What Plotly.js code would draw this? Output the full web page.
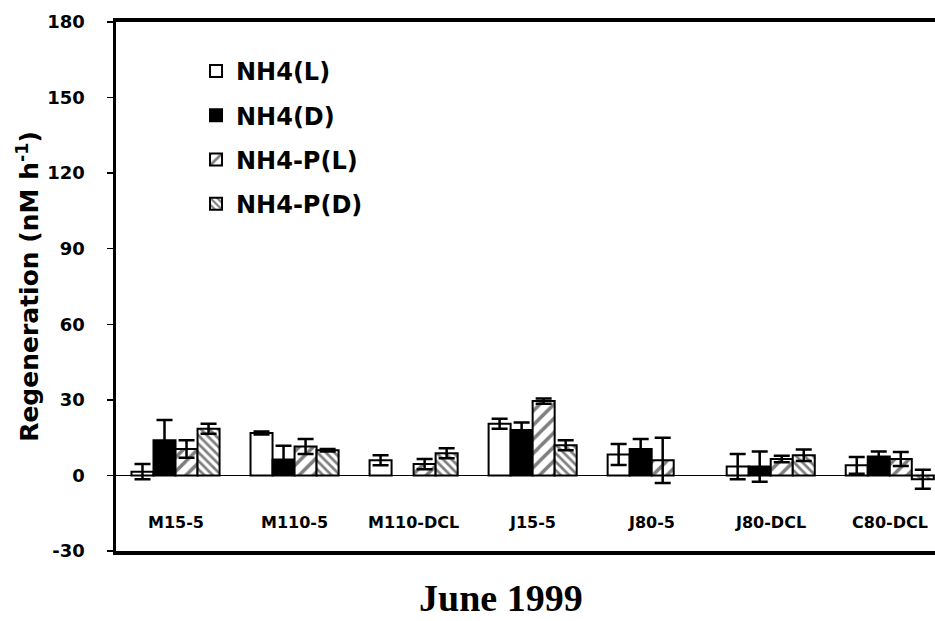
<!DOCTYPE html>
<html>
<head>
<meta charset="utf-8">
<script src="https://cdn.plot.ly/plotly-3.0.1.min.js"></script>
<style>html,body{margin:0;padding:0;background:#fff;}#chart{width:935px;height:621px;}</style>
</head>
<body>
<div id="chart"></div>
<script>
// Categories (stations)
const categories = ["M15-5", "M110-5", "M110-DCL", "J15-5", "J80-5", "J80-DCL", "C80-DCL"];
// Series values (nM h^-1) and error bars (null = no bar)
const nh4L   = [1.5, 16.8, 6.0, 20.5, 8.3, 3.5, 4.0];
const nh4LErr = [3.0, 0.6, 2.0, 2.0, 4.2, 5.0, 3.3];
const nh4D   = [14.0, 6.3, null, 18.0, 10.5, 3.5, 7.5];
const nh4DErr = [8.0, 5.5, null, 3.0, 4.0, 6.0, 2.0];
const nh4PL  = [10.5, 11.5, 4.5, 29.5, 6.0, 6.5, 6.5];
const nh4PLErr = [3.5, 3.0, 2.0, 1.0, 9.0, 1.3, 2.8];
const nh4PD  = [18.5, 10.0, 8.8, 12.0, null, 8.0, -1.5];
const nh4PDErr = [2.0, 0.5, 2.0, 2.0, null, 2.3, 3.8];
const seriesNames = ["NH4(L)", "NH4(D)", "NH4-P(L)", "NH4-P(D)"];
const yTicks = [-30, 0, 30, 60, 90, 120, 150, 180];
const yTickLabels = ["-30", "0", "30", "60", "90", "120", "150", "180"];
const boundaryTicks = [0.5, 1.5, 2.5, 3.5, 4.5, 5.5];
const xTitle = "June 1999";
const yTitle = "Regeneration (nM h<sup>-1</sup>)";

const sansBold = 'DejaVu Sans, sans-serif';
function errBar(arr) {
  return {type: 'data', array: arr, visible: true, color: '#000', thickness: 2.5, width: 8};
}
const line = {color: '#000', width: 2};

const traces = [
  {type: 'bar', name: seriesNames[0], x: categories, y: nh4L, error_y: errBar(nh4LErr),
   marker: {color: '#fff', line: line}, legendgroup: 'a'},
  {type: 'bar', name: seriesNames[1], x: categories, y: nh4D, error_y: errBar(nh4DErr),
   marker: {color: '#000', line: line}, legendgroup: 'b'},
  {type: 'bar', name: seriesNames[2], x: categories, y: nh4PL, error_y: errBar(nh4PLErr),
   marker: {color: '#fff', line: line, pattern: {shape: '/', fgcolor: '#000', bgcolor: '#fff', size: 10, solidity: 0.35, fillmode: 'overlay'}}, legendgroup: 'c'},
  {type: 'bar', name: seriesNames[3], x: categories, y: nh4PD, error_y: errBar(nh4PDErr),
   marker: {color: '#fff', line: line, pattern: {shape: '\\', fgcolor: '#000', bgcolor: '#fff', size: 6, solidity: 0.45, fillmode: 'overlay'}}, legendgroup: 'd'}
];

const annotations = categories.map(c => ({
  x: c, y: -18.5, xref: 'x', yref: 'y', text: c, showarrow: false,
  font: {family: sansBold, size: 16, color: '#000', weight: 'bold'}
}));
annotations.push({
  x: 0.3675, y: -0.088, xref: 'paper', yref: 'paper', text: '<b>' + xTitle + '</b>', showarrow: false,
  xanchor: 'left', yanchor: 'middle', font: {family: 'Liberation Serif, Times New Roman, serif', size: 38, color: '#000'}
});

const layout = {
  width: 935, height: 621,
  margin: {l: 116, r: 0, t: 22, b: 70},
  paper_bgcolor: '#fff', plot_bgcolor: '#fff',
  barmode: 'group', bargap: 0.26, bargroupgap: 0,
  showlegend: true,
  legend: {x: 0.0977, y: 0.949, xanchor: 'left', yanchor: 'top', bgcolor: 'rgba(0,0,0,0)',
    font: {family: sansBold, size: 24, color: '#000', weight: 'bold'},
    tracegroupgap: 10, itemwidth: 30},
  xaxis: {type: 'category', range: [-0.5, 6.38], showline: true, linecolor: '#000', linewidth: 4,
    mirror: true, ticks: '', showticklabels: false, showgrid: false, zeroline: false, fixedrange: true},
  xaxis2: {overlaying: 'x', anchor: 'free', position: 30 / 210, range: [-0.5, 6.38],
    tickvals: boundaryTicks, ticks: 'outside', ticklen: 4, tickwidth: 1.5, tickcolor: '#000',
    showticklabels: false, showline: false, showgrid: false, zeroline: false},
  yaxis: {range: [-30, 180], tickvals: yTicks, ticktext: yTickLabels,
    ticks: 'outside', ticklen: 6, tickwidth: 1.5,
    tickcolor: '#000', showline: true, linecolor: '#000', linewidth: 3.5, showgrid: false,
    zeroline: true, zerolinecolor: '#000', zerolinewidth: 1.5, ticklabelstandoff: 18,
    tickfont: {family: sansBold, size: 18, color: '#000', weight: 'bold'},
    title: {text: yTitle, standoff: 2,
      font: {family: sansBold, size: 25, color: '#000', weight: 'bold'}}},
  annotations: annotations
};

Plotly.newPlot('chart', traces, layout, {displayModeBar: false, staticPlot: true});
</script>
</body>
</html>
